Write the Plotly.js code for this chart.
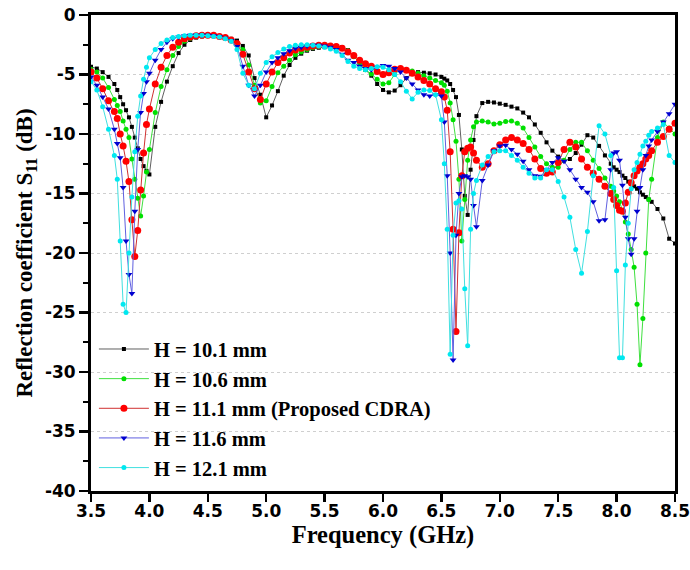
<!DOCTYPE html>
<html>
<head>
<meta charset="utf-8">
<script src="https://cdn.plot.ly/plotly-3.0.1.min.js"></script>
<style>html,body{margin:0;padding:0;background:#fff;}#chart{width:690px;height:570px;}</style>
</head>
<body>
<div id="chart"></div>
<script>
// Frequency samples (GHz)
const freq = [3.50,3.55,3.60,3.65,3.70,3.725,3.75,3.775,3.80,3.825,3.85,3.875,3.90,3.925,3.95,3.975,4.00,
4.05,4.10,4.15,4.20,4.25,4.30,4.35,4.40,4.45,4.50,4.55,4.60,4.65,4.70,4.75,4.80,4.85,4.90,4.95,5.00,5.05,5.10,5.15,5.20,5.25,5.30,5.35,5.40,5.45,5.50,5.55,5.60,5.65,5.70,5.75,5.80,5.85,5.90,5.95,6.00,6.05,6.10,6.15,6.20,6.25,6.30,6.35,6.40,6.45,6.50,
6.525,6.55,6.575,6.60,6.625,6.65,6.675,6.70,6.725,6.75,6.775,6.80,
6.85,6.90,6.95,7.00,7.05,7.10,7.15,7.20,7.25,7.30,7.35,7.40,7.45,7.50,7.55,7.60,7.65,7.70,7.75,7.80,7.85,7.90,7.95,
7.975,8.00,8.025,8.05,8.075,8.10,8.125,8.15,8.175,8.20,8.225,8.25,8.275,8.30,
8.35,8.40,8.45,8.50];

// S11 (dB) for each height H
const s11_H101 = [-4.35,-4.5,-4.8,-5.2,-5.8,-6.3,-6.9,-7.5,-8.0,-8.6,-9.4,-10.3,-11.2,-12.1,-12.7,-13.1,-13.4,
-9.4,-7.3,-5.6,-4.3,-3.2,-2.5,-2.1,-1.9,-1.8,-1.75,-1.75,-1.8,-1.9,-2.0,-2.15,-2.6,-3.4,-5.3,-6.7,-8.6,-7.6,-6.4,-5.1,-4.2,-3.6,-3.25,-3.0,-2.85,-2.75,-2.7,-2.65,-2.6,-2.7,-2.95,-3.5,-4.0,-4.6,-5.1,-5.8,-6.3,-6.5,-6.35,-5.9,-5.3,-4.9,-4.8,-4.85,-4.9,-5.0,-5.2,
-5.35,-5.5,-5.8,-6.3,-6.9,-8.4,-11.3,-15.2,-16.8,-13.0,-10.5,-8.5,
-7.4,-7.3,-7.35,-7.45,-7.55,-7.7,-7.85,-8.2,-8.6,-9.2,-9.9,-10.7,-11.4,-11.9,-12.25,-12.1,-11.6,-10.9,-10.1,-10.3,-11.0,-11.8,-12.5,
-12.8,-13.0,-13.2,-13.5,-13.7,-14.0,-14.2,-14.4,-14.6,-14.9,-15.1,-15.3,-15.5,-15.7,
-16.3,-17.1,-18.8,-19.2];

const s11_H106 = [-4.55,-4.8,-5.3,-6.1,-7.1,-7.6,-8.1,-8.9,-9.6,-10.3,-12.1,-13.8,-15.4,-16.9,-15.2,-13.2,-11.3,
-8.2,-6.0,-4.6,-3.4,-2.65,-2.2,-1.95,-1.8,-1.75,-1.7,-1.75,-1.8,-1.9,-2.05,-2.4,-2.9,-4.2,-5.9,-7.4,-7.2,-6.0,-4.85,-4.3,-3.8,-3.35,-3.1,-2.9,-2.75,-2.65,-2.6,-2.6,-2.65,-2.8,-3.0,-3.5,-4.0,-4.6,-4.95,-5.4,-5.8,-5.7,-5.0,-4.55,-4.6,-4.7,-4.9,-5.1,-5.3,-5.5,-5.7,
-5.9,-6.4,-7.4,-8.8,-10.6,-13.8,-19.0,-15.5,-12.2,-10.5,-9.4,-9.0,
-8.9,-9.0,-9.15,-9.1,-8.95,-8.9,-9.1,-9.5,-10.3,-11.1,-11.9,-12.5,-12.8,-12.8,-12.2,-11.3,-10.7,-10.7,-11.4,-12.2,-12.9,-13.7,-14.4,
-14.8,-15.2,-15.7,-16.4,-17.4,-18.4,-19.7,-21.2,-24.3,-29.4,-25.5,-20.0,-15.5,-13.8,
-10.3,-9.0,-9.5,-10.0];

const s11_H111 = [-4.8,-5.3,-6.2,-7.2,-8.1,-8.7,-10.0,-11.0,-12.3,-14.0,-17.2,-20.3,-18.1,-14.7,-11.6,-9.2,-7.9,
-5.8,-4.4,-3.4,-2.7,-2.3,-2.0,-1.85,-1.75,-1.7,-1.7,-1.7,-1.8,-1.9,-2.1,-2.4,-3.3,-4.8,-6.2,-7.1,-5.8,-4.8,-4.0,-3.6,-3.2,-2.95,-2.8,-2.7,-2.6,-2.55,-2.55,-2.6,-2.65,-2.8,-3.1,-3.4,-3.8,-4.1,-4.3,-4.75,-5.0,-4.85,-4.55,-4.5,-4.65,-4.9,-5.2,-5.5,-5.8,-6.2,-6.45,
-6.9,-8.0,-11.5,-18.0,-26.6,-18.3,-13.5,-11.5,-11.2,-11.1,-11.6,-12.2,
-12.8,-12.5,-11.4,-10.9,-10.5,-10.3,-10.5,-10.8,-11.3,-12.1,-12.9,-13.3,-13.2,-12.4,-11.3,-10.7,-11.1,-12.1,-12.8,-13.3,-13.8,-14.4,-15.0,
-15.5,-16.0,-16.4,-16.5,-15.8,-14.9,-14.1,-13.5,-13.1,-12.8,-12.5,-12.1,-11.8,-11.4,
-10.7,-10.2,-9.6,-9.1];

const s11_H116 = [-5.2,-5.9,-6.9,-7.9,-9.6,-10.8,-12.0,-14.5,-19.0,-21.8,-23.4,-16.5,-11.3,-8.2,-6.6,-5.6,-4.9,
-3.8,-2.9,-2.3,-2.0,-1.85,-1.75,-1.7,-1.7,-1.7,-1.7,-1.75,-1.8,-1.95,-2.15,-2.65,-4.3,-5.9,-6.8,-5.9,-4.8,-4.0,-3.6,-3.25,-3.0,-2.8,-2.7,-2.6,-2.55,-2.55,-2.6,-2.7,-2.9,-3.3,-3.8,-4.0,-4.3,-4.5,-4.6,-4.4,-4.25,-4.3,-4.5,-4.8,-5.3,-5.8,-6.3,-6.7,-6.8,-6.7,-6.8,
-9.0,-13.5,-20.0,-29.0,-18.5,-15.0,-13.6,-13.5,-13.6,-13.8,-16.0,-17.8,
-13.9,-12.6,-11.4,-11.0,-10.95,-11.3,-11.7,-12.3,-13.0,-13.5,-13.55,-13.0,-12.4,-12.0,-12.3,-13.0,-13.8,-14.5,-14.9,-15.7,-17.3,-17.2,-13.0,
-11.6,-11.5,-12.2,-14.3,-17.0,-18.8,-20.1,-18.8,-16.5,-14.5,-13.0,-11.8,-11.0,-10.5,
-9.8,-9.0,-8.3,-7.5];

const s11_H121 = [-5.6,-6.3,-7.7,-9.6,-11.8,-13.8,-19.0,-24.3,-25.0,-20.0,-15.3,-11.5,-8.5,-6.8,-5.4,-4.4,-3.6,
-2.9,-2.4,-2.1,-1.9,-1.8,-1.75,-1.7,-1.7,-1.7,-1.75,-1.8,-1.85,-2.0,-2.2,-2.9,-4.9,-5.9,-6.2,-4.9,-4.0,-3.5,-3.15,-2.85,-2.65,-2.55,-2.5,-2.5,-2.55,-2.6,-2.7,-2.85,-3.05,-3.4,-3.9,-4.3,-4.5,-4.6,-4.5,-4.35,-4.4,-4.6,-5.0,-5.6,-6.4,-7.05,-6.5,-6.3,-6.35,-6.7,-8.8,
-12.5,-18.0,-28.5,-18.5,-15.8,-15.6,-16.3,-23.0,-27.8,-18.0,-15.0,-13.9,
-12.6,-11.9,-11.5,-11.4,-11.4,-11.8,-12.2,-12.8,-13.3,-13.7,-13.7,-13.0,-13.0,-14.0,-15.3,-17.0,-19.7,-21.7,-18.2,-13.5,-9.3,-10.0,-11.8,
-14.5,-21.5,-28.8,-28.8,-21.0,-17.5,-14.6,-13.0,-12.4,-11.7,-11.0,-10.6,-10.1,-9.8,
-9.5,-9.2,-11.8,-12.4];

const seriesNames = ["H = 10.1 mm", "H = 10.6 mm", "H = 11.1 mm (Proposed CDRA)", "H = 11.6 mm", "H = 12.1 mm"];
const xTickVals = [3.5,4.0,4.5,5.0,5.5,6.0,6.5,7.0,7.5,8.0,8.5];
const xTickText = ["3.5","4.0","4.5","5.0","5.5","6.0","6.5","7.0","7.5","8.0","8.5"];
const yTickVals = [0,-5,-10,-15,-20,-25,-30,-35,-40];
const yTickText = ["0","-5","-10","-15","-20","-25","-30","-35","-40"];
const yMinorVals = [-2.5,-7.5,-12.5,-17.5,-22.5,-27.5,-32.5,-37.5];

const values = [s11_H101, s11_H106, s11_H111, s11_H116, s11_H121];
const styles = [
  {line:'#606060', marker:'#000000', symbol:'square', size:4},
  {line:'#40e040', marker:'#00e000', symbol:'circle', size:5},
  {line:'#d03030', marker:'#ff0000', symbol:'circle', size:7},
  {line:'#6060e0', marker:'#0000d0', symbol:'triangle-down', size:6},
  {line:'#40e0e0', marker:'#00e8f0', symbol:'circle', size:5}
];

const traces = values.map((v, i) => ({
  type: 'scatter',
  mode: 'lines+markers',
  x: freq,
  y: v,
  name: seriesNames[i],
  line: {color: styles[i].line, width: 1},
  marker: {color: styles[i].marker, symbol: styles[i].symbol, size: styles[i].size, line: {width: 0}}
}));

const axisFont = {family: 'DejaVu Sans, Liberation Sans, Arial', size: 17, color: '#000', weight: 'bold'};

const layout = {
  width: 690, height: 570,
  margin: {l: 91, r: 15, t: 15, b: 79},
  paper_bgcolor: '#fff', plot_bgcolor: '#fff',
  showlegend: true,
  legend: {
    x: 0.005, y: 0.34, xanchor: 'left', yanchor: 'top',
    bgcolor: 'rgba(0,0,0,0)', borderwidth: 0,
    font: {family: 'Liberation Serif, Times New Roman, serif', size: 20.5, color: '#000', weight: 'bold'},
    itemwidth: 50, tracegroupgap: 0
  },
  xaxis: {
    range: [3.5, 8.5],
    tickmode: 'array', tickvals: xTickVals, ticktext: xTickText,
    ticks: 'outside', ticklen: 8, tickwidth: 2.5, tickcolor: '#000',
    ticklabelstandoff: -5, ticklabeloverflow: 'allow',
    showline: true, linecolor: '#000', linewidth: 3, mirror: true,
    showgrid: false, zeroline: false,
    tickfont: axisFont,
    title: {text: 'Frequency (GHz)', standoff: 2,
      font: {family: 'Liberation Serif, Times New Roman, serif', size: 24.5, color: '#000', weight: 'bold'}}
  },
  yaxis: {
    range: [-40, 0],
    tickmode: 'array', tickvals: yTickVals, ticktext: yTickText,
    ticks: 'outside', ticklen: 9, tickwidth: 2.5, tickcolor: '#000',
    minor: {tickmode: 'array', tickvals: yMinorVals, ticks: 'outside', ticklen: 5, tickwidth: 2, tickcolor: '#000', showgrid: false},
    showline: true, linecolor: '#000', linewidth: 3, mirror: true,
    showgrid: true, gridcolor: '#cfcfcf', griddash: 'dot', gridwidth: 1,
    zeroline: false,
    tickfont: axisFont,
    title: {text: 'Reflection coefficient S<sub>11</sub> (dB)', standoff: 6,
      font: {family: 'Liberation Serif, Times New Roman, serif', size: 23, color: '#000', weight: 'bold'}}
  }
};

Plotly.newPlot('chart', traces, layout, {staticPlot: true, displayModeBar: false});
</script>
</body>
</html>
